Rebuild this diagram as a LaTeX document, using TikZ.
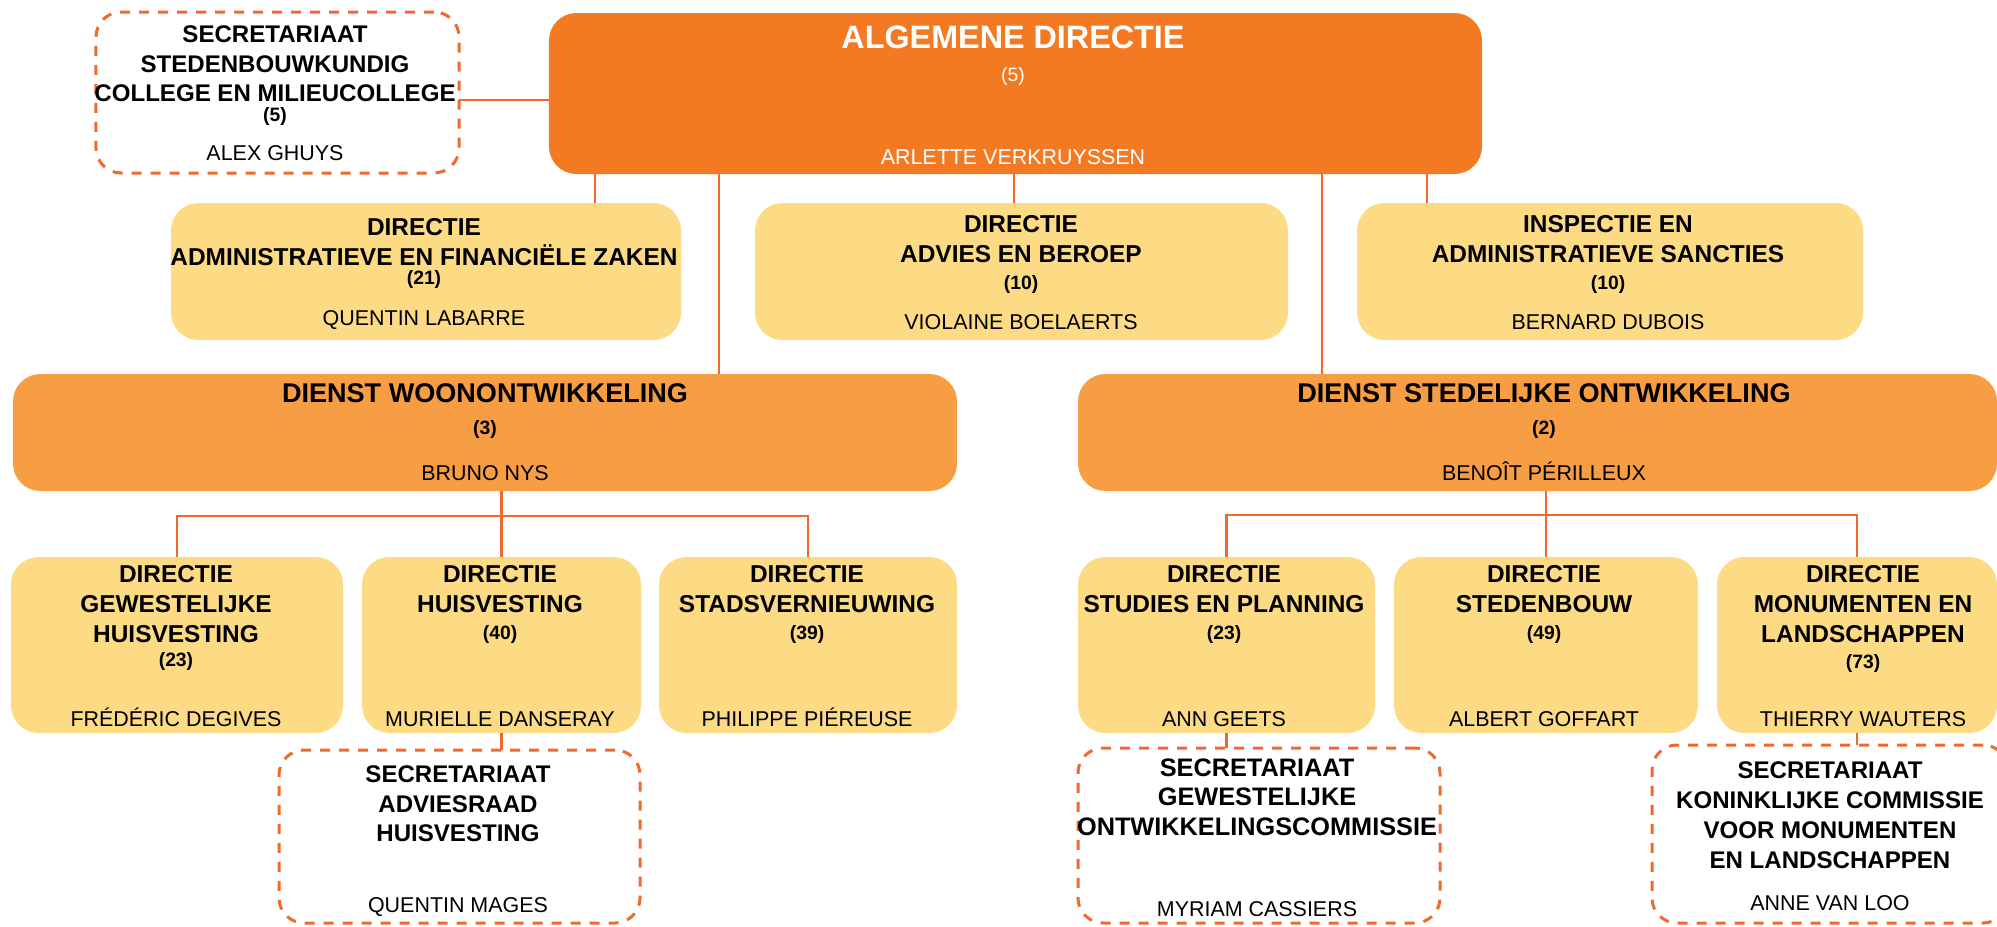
\documentclass[tikz,border=0pt]{standalone}
\usepackage{fontspec}
\setmainfont{Liberation Sans}
\definecolor{oranje}{RGB}{243,122,35}
\definecolor{lichtoranje}{RGB}{247,158,68}
\definecolor{geel}{RGB}{253,219,132}
\definecolor{lijnkleur}{RGB}{240,106,44}
\tikzset{
  blok/.style={rectangle, rounded corners=5.5mm, inner sep=0pt, outer sep=0pt},
  hoofd/.style={blok, fill=oranje},
  dienst/.style={blok, fill=lichtoranje},
  directie/.style={blok, fill=geel},
  secretariaat/.style={blok, rounded corners=5mm, draw=lijnkleur, line width=0.6mm, dash pattern=on 2mm off 1.8mm, fill=white},
  lijn/.style={draw=lijnkleur, line width=0.55mm},
  titel/.style={anchor=north, align=center, inner sep=0pt, font=\fontsize{13.9}{17}\selectfont\bfseries},
  sectitel/.style={titel, font=\fontsize{13.7}{17}\selectfont\bfseries},
  kop/.style={anchor=base, inner sep=0pt, font=\fontsize{15.4}{17}\selectfont\bfseries},
  naam/.style={anchor=base, inner sep=0pt, font=\fontsize{12.2}{14}\selectfont},
  aantal/.style={anchor=base, inner sep=0pt, font=\fontsize{11}{13}\selectfont\bfseries},
}
\begin{document}
\begin{tikzpicture}[x=0.2mm, y=-0.2mm]
    \useasboundingbox (0,0) rectangle (1997,926);
    %% Algemene directie
    \node[hoofd, minimum width=186.6mm, minimum height=32.2mm] (alg) at (1015.5,93.5) {};
    \node[anchor=base, inner sep=0pt, text=white, font=\fontsize{18.4}{22}\selectfont\bfseries] (alg-t) at (1013,48.3) {ALGEMENE DIRECTIE};
    \node[aantal, text=white, font=\fontsize{11}{13}\selectfont] (alg-a) at (1013,81) {(5)};
    \node[naam, text=white] (alg-n) at (1013,164) {ARLETTE VERKRUYSSEN};
    \node[secretariaat, minimum width=72.6mm, minimum height=32.2mm] (sec) at (277.5,92.5) {};
    \node[sectitel] (sec-t) at (275,25) {SECRETARIAAT\\STEDENBOUWKUNDIG\\COLLEGE EN MILIEUCOLLEGE};
    \node[aantal] (sec-a) at (275,121.4) {(5)};
    \node[naam] (sec-n) at (275,160) {ALEX GHUYS};
    %% Directies onder de algemene directie
    \node[directie, minimum width=102mm, minimum height=27.4mm] (afz) at (426,271.5) {};
    \node[titel] (afz-t) at (424,218.3) {DIRECTIE\\ADMINISTRATIEVE EN FINANCIËLE ZAKEN};
    \node[aantal] (afz-a) at (424,284.4) {(21)};
    \node[naam] (afz-n) at (424,325) {QUENTIN LABARRE};
    \node[directie, minimum width=106.6mm, minimum height=27.4mm] (ab) at (1021.5,271.5) {};
    \node[titel] (ab-t) at (1021,215) {DIRECTIE\\ADVIES EN BEROEP};
    \node[aantal] (ab-a) at (1021,289.4) {(10)};
    \node[naam] (ab-n) at (1021,329) {VIOLAINE BOELAERTS};
    \node[directie, minimum width=101.2mm, minimum height=27.4mm] (ias) at (1610,271.5) {};
    \node[titel] (ias-t) at (1608,215) {INSPECTIE EN\\ADMINISTRATIEVE SANCTIES};
    \node[aantal] (ias-a) at (1608,289.4) {(10)};
    \node[naam] (ias-n) at (1608,329) {BERNARD DUBOIS};
    %% Diensten
    \node[dienst, minimum width=188.8mm, minimum height=23.4mm] (dwo) at (485,432.5) {};
    \node[kop] (dwo-t) at (485,402.7) {DIENST WOONONTWIKKELING};
    \node[aantal] (dwo-a) at (485,434.4) {(3)};
    \node[naam] (dwo-n) at (485,480.7) {BRUNO NYS};
    \node[dienst, minimum width=183.8mm, minimum height=23.4mm] (dso) at (1537.5,432.5) {};
    \node[kop] (dso-t) at (1544,402.7) {DIENST STEDELIJKE ONTWIKKELING};
    \node[aantal] (dso-a) at (1544,434.4) {(2)};
    \node[naam] (dso-n) at (1544,480.7) {BENOÎT PÉRILLEUX};
    %% Directies wonen
    \node[directie, minimum width=66.4mm, minimum height=35.2mm] (gh) at (177,645) {};
    \node[titel] (gh-t) at (176,565) {DIRECTIE\\GEWESTELIJKE\\HUISVESTING};
    \node[aantal] (gh-a) at (176,666.9) {(23)};
    \node[naam] (gh-n) at (176,726.7) {FRÉDÉRIC DEGIVES};
    \node[directie, minimum width=55.8mm, minimum height=35.2mm] (hv) at (501.5,645) {};
    \node[titel] (hv-t) at (500,565) {DIRECTIE\\HUISVESTING};
    \node[aantal] (hv-a) at (500,639.4) {(40)};
    \node[naam] (hv-n) at (500,726.7) {MURIELLE DANSERAY};
    \node[directie, minimum width=59.6mm, minimum height=35.2mm] (sv) at (808,645) {};
    \node[titel] (sv-t) at (807,565) {DIRECTIE\\STADSVERNIEUWING};
    \node[aantal] (sv-a) at (807,639.4) {(39)};
    \node[naam] (sv-n) at (807,726.7) {PHILIPPE PIÉREUSE};
    %% Directies stedelijke ontwikkeling
    \node[directie, minimum width=59.4mm, minimum height=35.2mm] (sp) at (1226.5,645) {};
    \node[titel] (sp-t) at (1224,565) {DIRECTIE\\STUDIES EN PLANNING};
    \node[aantal] (sp-a) at (1224,639.4) {(23)};
    \node[naam] (sp-n) at (1224,726.7) {ANN GEETS};
    \node[directie, minimum width=60.8mm, minimum height=35.2mm] (sb) at (1546,645) {};
    \node[titel] (sb-t) at (1544,565) {DIRECTIE\\STEDENBOUW};
    \node[aantal] (sb-a) at (1544,639.4) {(49)};
    \node[naam] (sb-n) at (1544,726.7) {ALBERT GOFFART};
    \node[directie, minimum width=56mm, minimum height=35.2mm] (ml) at (1857,645) {};
    \node[titel] (ml-t) at (1863,565) {DIRECTIE\\MONUMENTEN EN\\LANDSCHAPPEN};
    \node[aantal] (ml-a) at (1863,668.9) {(73)};
    \node[naam] (ml-n) at (1863,726.7) {THIERRY WAUTERS};
    %% Secretariaten onderaan
    \node[secretariaat, minimum width=72.2mm, minimum height=34.6mm] (sah) at (459.5,836.5) {};
    \node[sectitel] (sah-t) at (458,765) {SECRETARIAAT\\ADVIESRAAD\\HUISVESTING};
    \node[naam] (sah-n) at (458,912.3) {QUENTIN MAGES};
    \node[secretariaat, minimum width=72.4mm, minimum height=35mm] (sgo) at (1259,835.5) {};
    \node[sectitel, font=\fontsize{14.4}{16.7}\selectfont\bfseries] (sgo-t) at (1257,758.3) {SECRETARIAAT\\GEWESTELIJKE\\ONTWIKKELINGSCOMMISSIE};
    \node[naam] (sgo-n) at (1257,916.7) {MYRIAM CASSIERS};
    \node[secretariaat, minimum width=71.2mm, minimum height=35.6mm] (skc) at (1830,834) {};
    \node[sectitel] (skc-t) at (1830,761.7) {SECRETARIAAT\\KONINKLIJKE COMMISSIE\\VOOR MONUMENTEN\\EN LANDSCHAPPEN};
    \node[naam] (skc-n) at (1830,910) {ANNE VAN LOO};
    %% Verbindingen
    \draw[lijn] (sec.east |- 0,100) -- (alg.west |- 0,100);
    \draw[lijn] (alg.south -| 595,0) -- (afz.north -| 595,0);
    \draw[lijn] (alg.south -| 1014,0) -- (ab.north -| 1014,0);
    \draw[lijn] (alg.south -| 1427,0) -- (ias.north -| 1427,0);
    \draw[lijn] (alg.south -| 719,0) -- (dwo.north -| 719,0);
    \draw[lijn] (alg.south -| 1322,0) -- (dso.north -| 1322,0);
    \draw[lijn] (dwo.south -| hv.north) -- (hv.north);
    \draw[lijn] (gh.north) |- (hv.north |- 0,516) -| (sv.north);
    \draw[lijn] (dso.south -| sb.north) -- (sb.north);
    \draw[lijn] (sp.north) |- (sb.north |- 0,515) -| (ml.north);
    \draw[lijn] (hv.south) -- (hv.south |- sah.north);
    \draw[lijn] (sp.south) -- (sp.south |- sgo.north);
    \draw[lijn] (ml.south) -- (ml.south |- skc.north);
\end{tikzpicture}
\end{document}
